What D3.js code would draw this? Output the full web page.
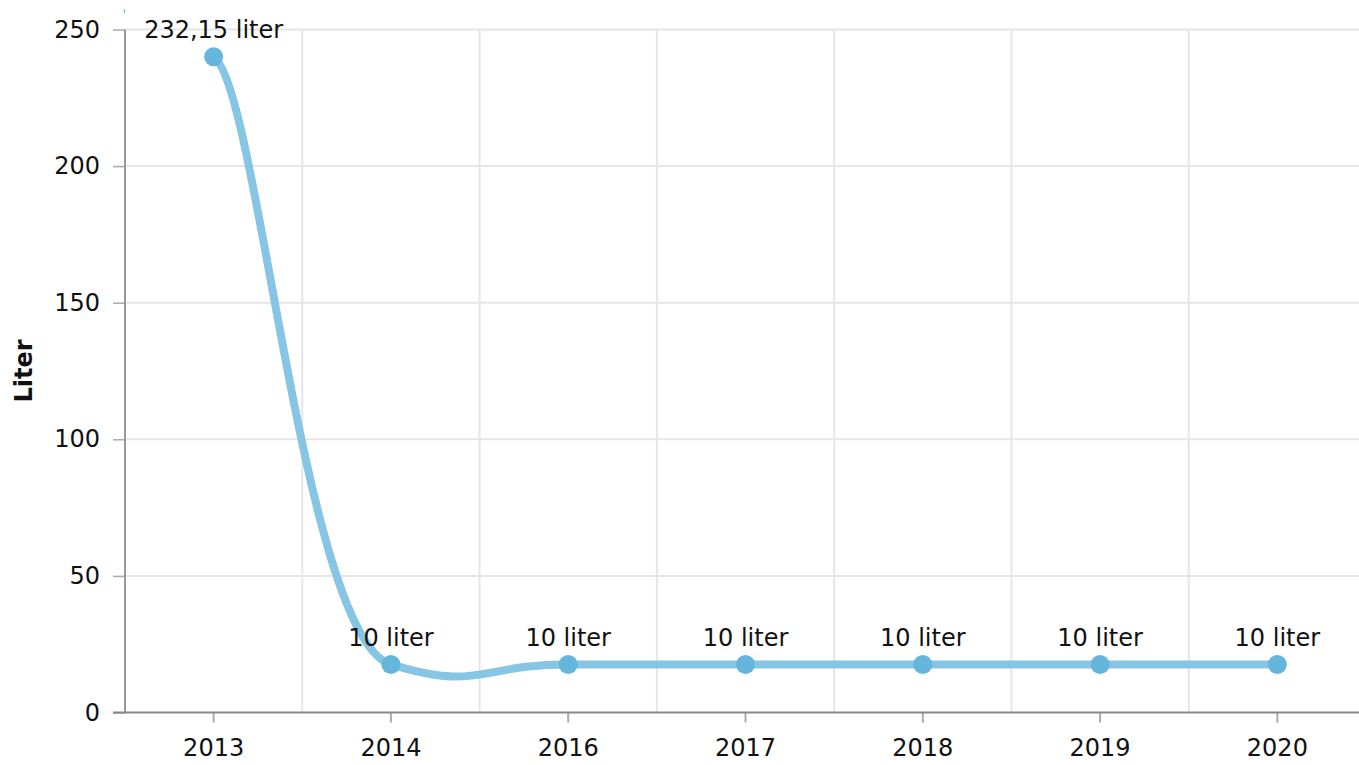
<!DOCTYPE html>
<html>
<head>
<meta charset="utf-8">
<script src="https://cdn.jsdelivr.net/npm/d3@7"></script>
<style>
  body { margin: 0; background: #fff; }
  text { font-family: Verdana, "DejaVu Sans", sans-serif; fill: #111; }
</style>
</head>
<body>
<div id="chart"></div>
<script>
var years = ["2013", "2014", "2016", "2017", "2018", "2019", "2020"];
var liters = [240, 17.6, 17.6, 17.6, 17.6, 17.6, 17.6];
var pointLabels = ["232,15 liter", "10 liter", "10 liter", "10 liter", "10 liter", "10 liter", "10 liter"];
var yTicks = [0, 50, 100, 150, 200, 250];

var svgWidth = 1359;
var svgHeight = 765;

var svg = d3.select("#chart")
  .append("svg")
  .attr("width", svgWidth)
  .attr("height", svgHeight);

var xScale = d3.scaleBand()
  .domain(years)
  .range([125, 1366]);

var yScale = d3.scaleLinear()
  .domain([0, 250])
  .range([712.5, 29.5]);

var cx = d => xScale(d) + xScale.bandwidth() / 2;

// grid
svg.append("g")
  .selectAll("line")
  .data(yTicks.slice(1))
  .enter()
  .append("line")
  .attr("x1", 125)
  .attr("x2", svgWidth)
  .attr("y1", d => yScale(d))
  .attr("y2", d => yScale(d))
  .attr("stroke", "#e6e6e6")
  .attr("stroke-width", 2);

svg.append("g")
  .selectAll("line")
  .data(years.slice(1))
  .enter()
  .append("line")
  .attr("x1", d => xScale(d))
  .attr("x2", d => xScale(d))
  .attr("y1", yScale(250))
  .attr("y2", yScale(0))
  .attr("stroke", "#e6e6e6")
  .attr("stroke-width", 2);

// y axis
var leftAxis = d3.axisLeft(yScale).tickValues(yTicks).tickSize(12).tickPadding(13);
var yAxis = svg.append("g")
  .attr("transform", "translate(125,0)")
  .call(leftAxis);
yAxis.select(".domain").remove();
yAxis.selectAll(".tick line").attr("stroke", "#aaa").attr("stroke-width", 1.5);
yAxis.selectAll(".tick text").style("font-size", "24px").attr("fill", "#111");

svg.append("line")
  .attr("x1", 125).attr("x2", 125)
  .attr("y1", yScale(250)).attr("y2", yScale(0))
  .attr("stroke", "#999")
  .attr("stroke-width", 2);

// x axis
var bottomAxis = d3.axisBottom(xScale).tickSize(10).tickPadding(16);
var xAxis = svg.append("g")
  .attr("transform", `translate(0, ${yScale(0)})`)
  .call(bottomAxis);
xAxis.select(".domain").remove();
xAxis.selectAll(".tick line").attr("stroke", "#aaa").attr("stroke-width", 2);
xAxis.selectAll(".tick text").style("font-size", "24px").attr("fill", "#111");

svg.append("line")
  .attr("x1", 113).attr("x2", svgWidth)
  .attr("y1", yScale(0)).attr("y2", yScale(0))
  .attr("stroke", "#888")
  .attr("stroke-width", 2);

svg.append("line")
  .attr("x1", 124.5).attr("x2", 124.5)
  .attr("y1", 9).attr("y2", 13)
  .attr("stroke", "#6ab7dd")
  .attr("stroke-width", 1);

// axis title
svg.append("text")
  .attr("transform", `translate(32, ${yScale(125)}) rotate(-90)`)
  .attr("text-anchor", "middle")
  .style("font-size", "24px")
  .style("font-weight", "bold")
  .text("Liter");

// smoothed line
function smoothPath(pts, kx, ky) {
  var p = d3.path();
  p.moveTo(pts[0][0], pts[0][1]);
  for (var i = 0; i < pts.length - 1; i++) {
    var p0 = pts[Math.max(i - 1, 0)];
    var p1 = pts[i];
    var p2 = pts[i + 1];
    var p3 = pts[Math.min(i + 2, pts.length - 1)];
    p.bezierCurveTo(
      p1[0] + (p2[0] - p0[0]) * kx, p1[1] + (p2[1] - p0[1]) * ky,
      p2[0] - (p3[0] - p1[0]) * kx, p2[1] - (p3[1] - p1[1]) * ky,
      p2[0], p2[1]);
  }
  return p.toString();
}

var points = years.map((d, i) => [cx(d), yScale(liters[i])]);

svg.append("path")
  .attr("d", smoothPath(points, 0.25, 0.045))
  .attr("fill", "none")
  .attr("stroke", "#86c5e4")
  .attr("stroke-width", 8)
  .attr("stroke-linecap", "round");

svg.append("g")
  .selectAll("circle")
  .data(years)
  .enter()
  .append("circle")
  .attr("cx", d => cx(d))
  .attr("cy", (d, i) => yScale(liters[i]))
  .attr("r", 9.5)
  .attr("fill", "#65b6dc");

svg.append("g")
  .selectAll("text")
  .data(years)
  .enter()
  .append("text")
  .attr("x", d => cx(d))
  .attr("y", (d, i) => yScale(liters[i]) - 18.5)
  .attr("text-anchor", "middle")
  .style("font-size", "24px")
  .text((d, i) => pointLabels[i]);
</script>
</body>
</html>
